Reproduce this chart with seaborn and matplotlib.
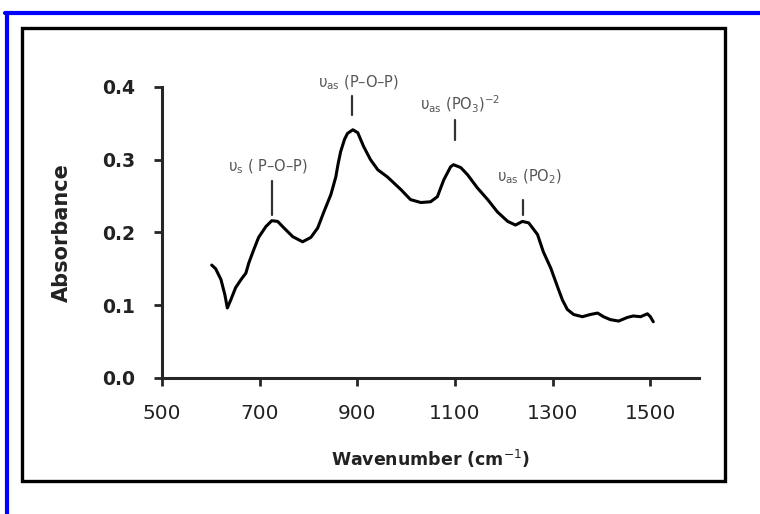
import matplotlib
matplotlib.use("Agg")
import matplotlib.pyplot as plt
import numpy as np
import pandas as pd
import seaborn as sns
from matplotlib.lines import Line2D
from matplotlib.patches import Rectangle

# spectrum
wavenumber = [602, 610, 621, 629, 634, 641, 651, 662, 672, 678, 688, 698, 713, 725,
              737, 750, 768, 788, 805, 819, 831, 846, 856, 861, 866, 874, 880, 891,
              901, 913, 927, 942, 962, 989, 1009, 1030, 1050, 1064, 1077, 1091, 1097,
              1112, 1126, 1146, 1167, 1187, 1208, 1224, 1238, 1251, 1269, 1281, 1296,
              1310, 1320, 1330, 1343, 1361, 1377, 1392, 1404, 1418, 1435, 1453, 1465,
              1480, 1494, 1500, 1506]
absorbance = [0.155, 0.150, 0.135, 0.114, 0.096, 0.107, 0.124, 0.135, 0.144, 0.158,
              0.176, 0.193, 0.208, 0.216, 0.215, 0.206, 0.194, 0.187, 0.193, 0.206,
              0.227, 0.252, 0.276, 0.295, 0.311, 0.328, 0.336, 0.341, 0.337, 0.318,
              0.300, 0.286, 0.276, 0.259, 0.245, 0.241, 0.242, 0.249, 0.272, 0.290,
              0.293, 0.289, 0.279, 0.261, 0.245, 0.228, 0.215, 0.210, 0.215, 0.213,
              0.197, 0.173, 0.151, 0.125, 0.107, 0.094, 0.087, 0.084, 0.087, 0.089,
              0.084, 0.080, 0.078, 0.083, 0.085, 0.084, 0.088, 0.084, 0.077]

# band assignments
band_labels = [r"υ$_{\mathrm{s}}$ ( P–O–P)", r"υ$_{\mathrm{as}}$ (P–O–P)",
               r"υ$_{\mathrm{as}}$ (PO$_{3}$)$^{-2}$", r"υ$_{\mathrm{as}}$ (PO$_{2}$)"]
band_pos = [725, 890, 1101, 1240]
band_line_lo = [0.224, 0.362, 0.327, 0.224]
band_line_hi = [0.270, 0.387, 0.355, 0.245]
band_text_x = [717, 903, 1111, 1253]
band_text_y = [0.290, 0.406, 0.376, 0.276]

xticks = [500, 700, 900, 1100, 1300, 1500]
yticks = [0.0, 0.1, 0.2, 0.3, 0.4]

df = pd.DataFrame({"Wavenumber": wavenumber, "Absorbance": absorbance})

sns.set_style("ticks")
plt.rcParams['font.family'] = ['DejaVu Sans']
plt.rcParams['mathtext.fontset'] = 'dejavusans'

fig = plt.figure(figsize=(7.6, 5.14), dpi=100)
ax = fig.add_axes([0.213, 0.265, 0.707, 0.566])

sns.lineplot(data=df, x="Wavenumber", y="Absorbance", ax=ax, color="black",
             linewidth=2.2, estimator=None, sort=False,
             solid_joinstyle="round", solid_capstyle="round")

for lab, xp, lo, hi, tx, ty in zip(band_labels, band_pos, band_line_lo, band_line_hi,
                                   band_text_x, band_text_y):
    ax.plot([xp, xp], [lo, hi], color="#333333", lw=1.6, clip_on=False)
    ax.text(tx, ty, lab, ha="center", va="center", fontsize=10.5, color="#555555",
            clip_on=False)

ax.set_xlim(500, 1600)
ax.set_ylim(0, 0.4)
ax.set_xticks(xticks)
ax.set_yticks(yticks)
ax.set_yticklabels([f"{v:.1f}" for v in yticks], fontweight="bold", fontsize=13.5,
                   color="#222222")
ax.set_xticklabels([str(v) for v in xticks], fontsize=14.5, color="#222222")
ax.set_xlabel(r"Wavenumber (cm$^{-1}$)", fontsize=12.5, fontweight="bold",
              color="#222222", labelpad=18)
ax.set_ylabel("Absorbance", fontsize=15, fontweight="bold", color="#222222",
              labelpad=22)
sns.despine(ax=ax)
for s in ["left", "bottom"]:
    ax.spines[s].set_linewidth(2.2)
ax.tick_params(width=2, length=6, pad=13)

# outer frames
fig.patches.append(Rectangle((22 / 760, 1 - 481 / 514), 703 / 760, 453 / 514,
                             transform=fig.transFigure, fill=False, edgecolor="black",
                             linewidth=2.4))
fig.lines.append(Line2D([5 / 760, 1], [1 - 13 / 514, 1 - 13 / 514], transform=fig.transFigure,
                        color="#0000ff", linewidth=3))
fig.lines.append(Line2D([7 / 760, 7 / 760], [0, 1 - 13 / 514], transform=fig.transFigure,
                        color="#0000ff", linewidth=3))

fig.savefig("out.png", dpi=100)
